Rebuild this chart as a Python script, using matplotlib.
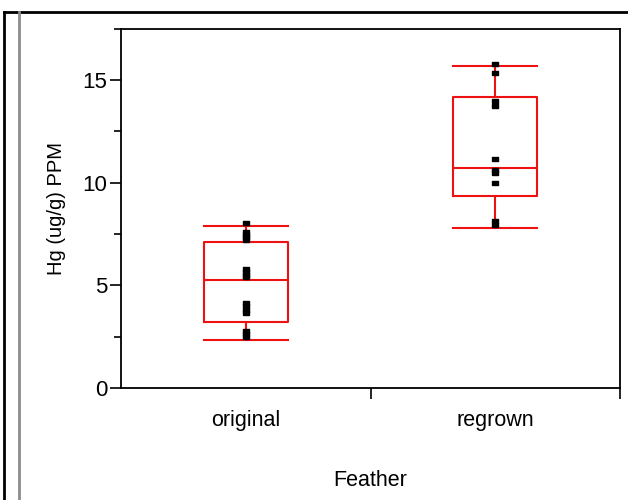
import matplotlib
matplotlib.use("Agg")
import matplotlib.pyplot as plt
from matplotlib.lines import Line2D

plt.rcParams['font.family'] = ['Liberation Sans', 'DejaVu Sans']

# data
groups = ["original", "regrown"]
original_pts = [8.05, 7.6, 7.45, 7.35, 7.2, 5.8, 5.65, 5.5, 5.4,
                4.15, 4.0, 3.8, 3.65, 2.8, 2.65, 2.5]
regrown_pts = [15.8, 15.35, 14.0, 13.75, 11.15, 10.6, 10.45, 10.0, 8.15, 7.95]
q1 = [3.2, 9.35]
median = [5.25, 10.7]
q3 = [7.13, 14.18]
whis_lo = [2.32, 7.8]
whis_hi = [7.87, 15.68]
y_major = [0, 5, 10, 15]
y_minor = [2.5, 7.5, 12.5, 17.5]

fig = plt.figure(figsize=(6.28, 5.00), dpi=100)
ax = fig.add_axes([0.1927, 0.224, 0.7946, 0.7186])

red = "#ee1111"
stats = []
for i, g in enumerate(groups):
    stats.append(dict(label=g, q1=q1[i], med=median[i], q3=q3[i],
                      whislo=whis_lo[i], whishi=whis_hi[i], fliers=[]))
ax.bxp(stats, positions=[0.5, 1.5], widths=0.336, capwidths=0.336,
       showfliers=False,
       boxprops=dict(color=red, linewidth=1.5),
       medianprops=dict(color=red, linewidth=1.5),
       whiskerprops=dict(color=red, linewidth=1.5),
       capprops=dict(color=red, linewidth=1.5))

# wide, flat square markers like the original
rect = [(-1, -0.55), (1, -0.55), (1, 0.55), (-1, 0.55), (-1, -0.55)]
for pos, pts in zip([0.5, 1.5], [original_pts, regrown_pts]):
    ax.plot([pos] * len(pts), pts, linestyle="none", marker=rect,
            markersize=4.4, color="black", zorder=3)

ax.set_xlim(0, 2)
ax.set_ylim(0, 17.5)

ax.set_yticks(y_major)
ax.set_yticks(y_minor, minor=True)
ax.tick_params(axis="y", which="major", length=8, width=1.2, labelsize=16, pad=2)
ax.tick_params(axis="y", which="minor", length=5, width=1.2)

ax.set_xticks([1, 2])
ax.set_xticklabels(["", ""])
ax.set_xticks([0.5, 1.5], minor=True)
ax.set_xticklabels(groups, minor=True)
ax.tick_params(axis="x", which="major", length=8, width=1.2)
ax.tick_params(axis="x", which="minor", length=0, labelsize=15.5, pad=16)

for s in ax.spines.values():
    s.set_linewidth(1.3)
    s.set_color("black")

ax.set_ylabel("Hg (ug/g) PPM", fontsize=14.5, labelpad=12)
ax.set_xlabel("Feather", fontsize=15.5, labelpad=28)

# outer frame of the report
fig.add_artist(Line2D([4 / 628, 4 / 628], [0, 1 - 12 / 500], color="black", linewidth=2))
fig.add_artist(Line2D([4 / 628, 1], [1 - 12 / 500, 1 - 12 / 500], color="black", linewidth=2))
fig.add_artist(Line2D([19 / 628, 19 / 628], [0, 1 - 12 / 500], color="#8c8c8c", linewidth=2))

fig.savefig("out.png", dpi=100)
